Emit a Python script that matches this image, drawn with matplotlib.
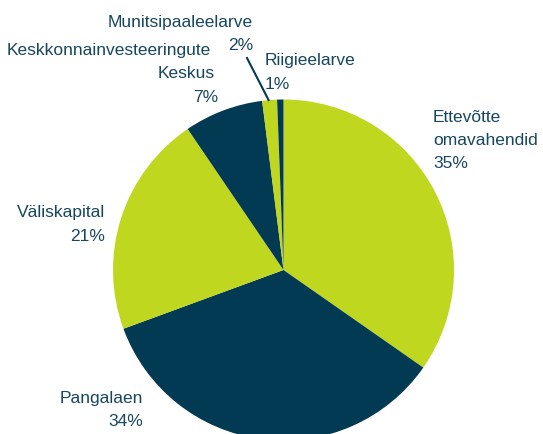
import numpy as np
import matplotlib.pyplot as plt

plt.rcParams['font.family'] = ['Liberation Sans', 'DejaVu Sans']

# funding sources, clockwise from the top
sources = ['Ettevõtte\nomavahendid', 'Pangalaen', 'Väliskapital',
           'Keskkonnainvesteeringute\nKeskus', 'Munitsipaaleelarve', 'Riigieelarve']
shares = [34.7, 34.7, 21.1, 7.5, 1.4, 0.6]
pct_labels = ['35%', '34%', '21%', '7%', '2%', '1%']

lime = '#bfd71f'
navy = '#033a53'
txt = '#17465f'
colors = [lime, navy, lime, navy, lime, navy]

W, H = 543, 434
fig = plt.figure(figsize=(W / 100, H / 100), dpi=100)
ax = fig.add_axes([0, 0, 1, 1])

cx, cy, r = 283.5, H - 270, 170.5
ax.pie(shares, colors=colors, startangle=90, counterclock=False,
       center=(cx, cy), radius=r, frame=True,
       wedgeprops=dict(linewidth=0))
ax.set_xlim(0, W)
ax.set_ylim(0, H)
ax.set_aspect('equal')
ax.axis('off')

# first-line position (pixel coords from top-left), alignment, per-line x shift
places = [
    (433, 117, 'left', 0),
    (143, 398, 'right', 0),
    (105, 213, 'right', 0),
    (211, 50, 'right', 3.5),
    (253, 22, 'right', 0),
    (265, 61, 'left', 0),
]
step = 23.5
for name, pct, (x, y, ha, dx) in zip(sources, pct_labels, places):
    lines = name.split('\n') + [pct]
    for i, line in enumerate(lines):
        ax.text(x + i * dx, H - (y + i * step), line, ha=ha, va='center',
                fontsize=12.5, color=txt)

# leader line for the small municipal slice
cum = np.cumsum([0] + shares)
mid = 90 - 360 * (cum[4] + shares[4] / 2) / sum(shares)
ex = cx + r * np.cos(np.radians(mid))
ey = cy + r * np.sin(np.radians(mid))
ax.plot([ex - 1, 247], [ey, H - 58], color=navy, lw=1.5)

fig.savefig('out.png', dpi=100)
